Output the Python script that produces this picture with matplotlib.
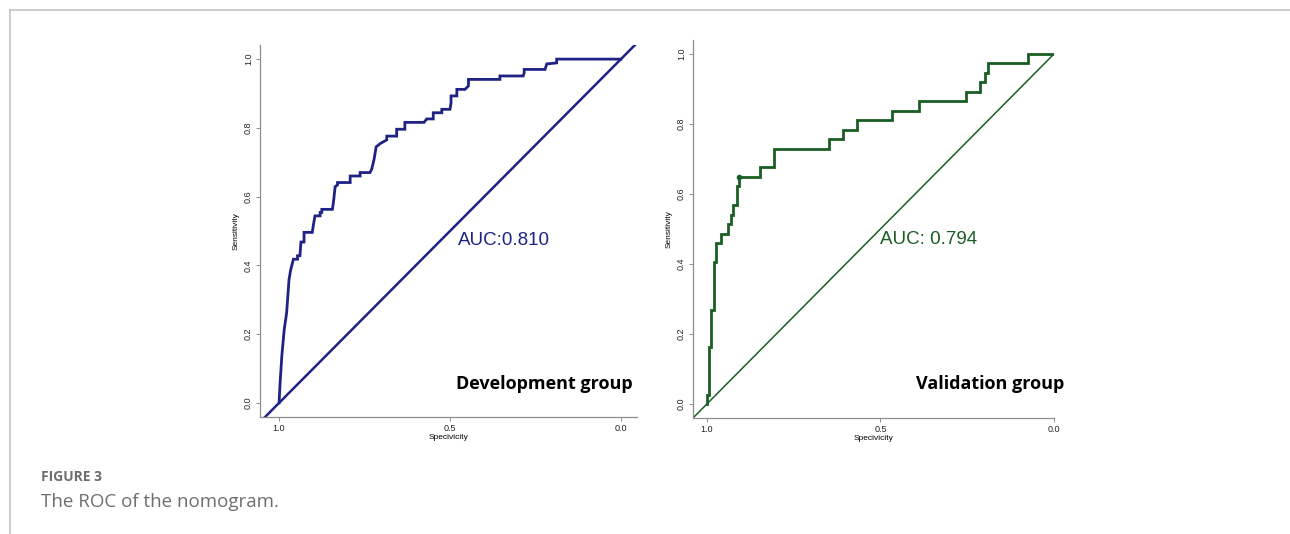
import numpy as np
import matplotlib
matplotlib.use("Agg")
from matplotlib import pyplot as plt
from matplotlib.lines import Line2D

# Development group ROC (specificity, sensitivity)
dev_spec = [1.000, 0.997, 0.992, 0.985, 0.978, 0.973, 0.971, 0.966, 0.958, 0.946, 0.946, 0.939,
            0.936, 0.927, 0.927, 0.903, 0.900, 0.895, 0.880, 0.880, 0.875, 0.875, 0.844, 0.841,
            0.836, 0.829, 0.829, 0.792, 0.792, 0.763, 0.763, 0.734, 0.729, 0.722, 0.716, 0.703,
            0.685, 0.685, 0.656, 0.656, 0.632, 0.632, 0.576, 0.568, 0.549, 0.549, 0.524, 0.524,
            0.500, 0.497, 0.497, 0.480, 0.480, 0.456, 0.446, 0.446, 0.354, 0.354, 0.286, 0.283,
            0.283, 0.222, 0.217, 0.188, 0.188, 0.000]
dev_sens = [0.000, 0.058, 0.136, 0.213, 0.261, 0.329, 0.358, 0.387, 0.418, 0.418, 0.428, 0.428,
            0.468, 0.468, 0.496, 0.496, 0.515, 0.544, 0.544, 0.554, 0.554, 0.563, 0.563, 0.583,
            0.629, 0.634, 0.641, 0.641, 0.660, 0.660, 0.670, 0.670, 0.680, 0.709, 0.745, 0.755,
            0.765, 0.776, 0.776, 0.796, 0.796, 0.816, 0.816, 0.826, 0.826, 0.844, 0.844, 0.854,
            0.854, 0.873, 0.893, 0.893, 0.912, 0.912, 0.922, 0.941, 0.941, 0.951, 0.951, 0.960,
            0.970, 0.970, 0.986, 0.989, 1.000, 1.000]

# Validation group ROC
val_spec = [1.000, 1.000, 0.994, 0.994, 0.987, 0.987, 0.980, 0.980, 0.973, 0.973, 0.960, 0.960,
            0.938, 0.938, 0.931, 0.931, 0.925, 0.925, 0.912, 0.912, 0.906, 0.906, 0.848, 0.848,
            0.808, 0.808, 0.649, 0.649, 0.609, 0.609, 0.568, 0.568, 0.467, 0.467, 0.389, 0.389,
            0.253, 0.253, 0.213, 0.213, 0.199, 0.199, 0.191, 0.191, 0.074, 0.074, 0.000]
val_sens = [0.000, 0.027, 0.027, 0.162, 0.162, 0.270, 0.270, 0.405, 0.405, 0.459, 0.459, 0.486,
            0.486, 0.514, 0.514, 0.541, 0.541, 0.568, 0.568, 0.622, 0.622, 0.649, 0.649, 0.676,
            0.676, 0.730, 0.730, 0.757, 0.757, 0.784, 0.784, 0.811, 0.811, 0.838, 0.838, 0.865,
            0.865, 0.892, 0.892, 0.919, 0.919, 0.946, 0.946, 0.973, 0.973, 1.000, 1.000]
val_best = (0.906, 0.650)

ticks = [0.0, 0.2, 0.4, 0.6, 0.8, 1.0]
xticks = [1.0, 0.5, 0.0]

navy = "#1f2285"
green = "#1a5e23"
axis_grey = "#8c8c8c"

fig = plt.figure(figsize=(12.9, 5.34), dpi=100)
fig.patch.set_facecolor("white")

def style_axes(ax):
    for s in ["top", "right"]:
        ax.spines[s].set_visible(False)
    for s in ["left", "bottom"]:
        ax.spines[s].set_color(axis_grey)
        ax.spines[s].set_linewidth(0.9)
    ax.set_yticks(ticks)
    ax.set_yticklabels(["%.1f" % t for t in ticks], rotation=90, va="center",
                       fontsize=6.5, family="Liberation Sans", color="#222222")
    ax.set_xticks(xticks)
    ax.set_xticklabels(["%.1f" % t for t in xticks], fontsize=6.5,
                       family="Liberation Sans", color="#222222")
    ax.tick_params(length=3, width=0.7, color=axis_grey, pad=2)
    ax.set_xlabel("Specivicity", fontsize=6, family="Liberation Sans", labelpad=1)
    ax.set_ylabel("Sensitivity", fontsize=6, family="Liberation Sans", labelpad=3)
    ax.patch.set_alpha(0)

# left panel
ax1 = fig.add_axes([0.2016, 0.2191, 0.2922, 0.6966])
ax1.set_xlim(1.0556, -0.047)
ax1.set_ylim(-0.041, 1.041)
ax1.plot([1.1, -0.1], [-0.1, 1.1], color=navy, lw=1.8)
ax1.plot(dev_spec, dev_sens, color=navy, lw=2.0, solid_joinstyle="miter")
style_axes(ax1)
ax1.text(0.477, 0.471, "AUC:0.810", color=navy, fontsize=13.5,
         family="Liberation Sans", ha="left", va="center")
ax1.text(-0.035, 0.055, "Development group", color="black", fontsize=13,
         family="Open Sans", fontweight="bold", ha="right", va="center")

# right panel
ax2 = fig.add_axes([0.5372, 0.2172, 0.2798, 0.7079])
ax2.set_xlim(1.04, 0.0)
ax2.set_ylim(-0.04, 1.04)
ax2.plot([1.1, 0.0], [-0.1, 1.0], color=green, lw=1.1)
ax2.plot(val_spec, val_sens, color=green, lw=2.0, solid_joinstyle="miter")
ax2.plot([val_best[0]], [val_best[1]], "o", color=green, ms=3)
style_axes(ax2)
ax2.text(0.501, 0.469, "AUC: 0.794", color=green, fontsize=13.5,
         family="Liberation Sans", ha="left", va="center")
ax2.text(-0.029, 0.057, "Validation group", color="black", fontsize=13,
         family="Open Sans", fontweight="bold", ha="right", va="center")

# frame and caption
fig.add_artist(Line2D([10 / 1290, 1], [1 - 10 / 534, 1 - 10 / 534], color="#c4c4c4", lw=1.2))
fig.add_artist(Line2D([10 / 1290, 10 / 1290], [0, 1 - 10 / 534], color="#c4c4c4", lw=1.2))
fig.text(41 / 1290, 1 - 477 / 534, "FIGURE 3", fontsize=10, family="Open Sans",
         fontweight="bold", color="#6e6e6e", va="center", ha="left")
fig.text(41 / 1290, 1 - 502 / 534, "The ROC of the nomogram.", fontsize=13.5,
         family="Open Sans", color="#6e6e6e", va="center", ha="left")

fig.savefig("out.png", dpi=100)
